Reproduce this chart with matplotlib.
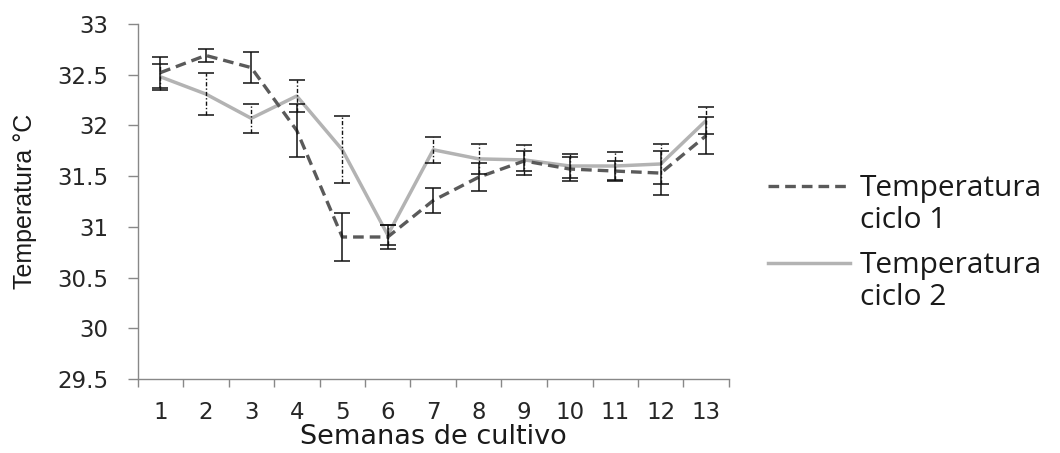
import numpy as np
import matplotlib
matplotlib.use("Agg")
import matplotlib.pyplot as plt
from matplotlib.lines import Line2D
from matplotlib.ticker import FuncFormatter, MultipleLocator

# datos
semanas = np.arange(1, 14)
ciclo1 = [32.52, 32.69, 32.57, 31.95, 30.90, 30.90, 31.26, 31.49, 31.65, 31.57, 31.55, 31.53, 31.90]
err1 = [0.15, 0.06, 0.15, 0.26, 0.24, 0.12, 0.12, 0.14, 0.10, 0.12, 0.10, 0.22, 0.18]
ciclo2 = [32.48, 32.31, 32.07, 32.29, 31.76, 30.92, 31.76, 31.67, 31.66, 31.60, 31.60, 31.62, 32.05]
err2 = [0.13, 0.21, 0.145, 0.16, 0.33, 0.10, 0.13, 0.15, 0.145, 0.12, 0.14, 0.20, 0.13]
etiquetas = ["Temperatura\nciclo 1", "Temperatura\nciclo 2"]

W, H = 1060, 453
fig = plt.figure(figsize=(W / 100, H / 100), dpi=100)
ax = fig.add_axes([137.5 / W, (H - 379) / H, (729 - 137.5) / W, 355 / H])

c_dash, c_sol = "#5a5a5a", "#b3b3b3"
ax.plot(semanas, ciclo2, color=c_sol, lw=2.5, solid_capstyle="butt")
ax.plot(semanas, ciclo1, color=c_dash, lw=2.4, dashes=(3.2, 1.8))

eb1 = ax.errorbar(semanas, ciclo1, yerr=err1, fmt="none", ecolor="#111111",
                  elinewidth=1.1, capsize=6, capthick=1.1)
eb2 = ax.errorbar(semanas, ciclo2, yerr=err2, fmt="none", ecolor="#111111",
                  elinewidth=1.0, capsize=6, capthick=1.1)
eb2[2][0].set_linestyle((0, (3, 1.5, 1, 1.5)))

ax.set_xlim(0.5, 13.5)
ax.set_ylim(29.5, 33)

for s in ["top", "right"]:
    ax.spines[s].set_visible(False)
for s in ["left", "bottom"]:
    ax.spines[s].set_color("#888888")
    ax.spines[s].set_linewidth(1.0)

ax.yaxis.set_major_locator(MultipleLocator(0.5))
ax.yaxis.set_major_formatter(FuncFormatter(lambda v, p: f"{v:g}"))
ax.tick_params(axis="y", length=7, width=1, color="#888888", pad=14,
               labelsize=16.5, labelcolor="#262626")

ax.set_xticks(semanas)
ax.set_xticks(np.arange(0.5, 14, 1), minor=True)
ax.tick_params(axis="x", which="major", length=0, pad=16, labelsize=16.5,
               labelcolor="#262626")
ax.tick_params(axis="x", which="minor", length=6, width=1, color="#888888")

ax.set_xlabel("Semanas de cultivo", fontsize=19.5, color="#1a1a1a", labelpad=0)
ax.set_ylabel("Temperatura °C", fontsize=18, family="Liberation Sans", color="#1a1a1a")
ax.yaxis.set_label_coords(-0.17, 0.5)

# leyenda dibujada a mano (linea en la primera fila del texto)
estilos = [dict(color=c_dash, lw=2.4, dashes=(3.2, 1.8)), dict(color=c_sol, lw=2.5)]
filas = [196, 273]
for lab, est, yb in zip(etiquetas, estilos, filas):
    yh = yb - 10
    fig.add_artist(Line2D([768 / W, 850 / W], [(H - yh) / H] * 2,
                          transform=fig.transFigure, **est))
    l1, l2 = lab.split("\n")
    fig.text(860 / W, (H - yb) / H, l1, fontsize=21.5, family="Open Sans",
             va="baseline", color="#1a1a1a")
    fig.text(860 / W, (H - yb - 32) / H, l2, fontsize=21.5, family="Open Sans",
             va="baseline", color="#1a1a1a")

fig.savefig("out.png", dpi=100)
